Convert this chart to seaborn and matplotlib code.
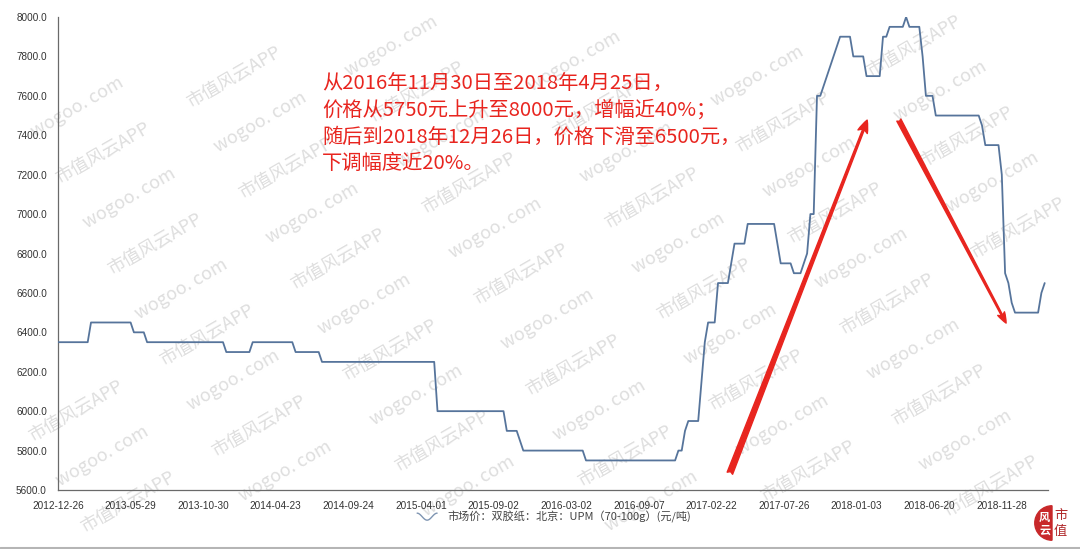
import numpy as np
import pandas as pd
import matplotlib
matplotlib.use("Agg")
import matplotlib.pyplot as plt
import seaborn as sns
from matplotlib.ticker import MultipleLocator, FixedLocator, FixedFormatter, FormatStrFormatter
from matplotlib.legend_handler import HandlerBase
from matplotlib.lines import Line2D
from matplotlib.patches import Wedge

# 双胶纸周度市场价（元/吨）：每个价位及其连续持续的周数
price_levels = [6350, 6450, 6400, 6350, 6300, 6350, 6300, 6250, 6000, 5900,
                5850, 5800, 5750, 5800, 5900, 5950, 6150, 6350, 6450, 6650,
                6750, 6850, 6950, 6850, 6750, 6700, 6750, 6800, 7000, 7600,
                7650, 7700, 7750, 7800, 7850, 7900, 7800, 7700, 7900, 7950,
                8000, 7950, 7800, 7600, 7500, 7450, 7350, 7200, 6700, 6650,
                6550, 6500, 6600, 6650]
weeks_at_level = [10, 13, 4, 24, 8, 13, 8, 35, 21, 4,
                  1, 19, 28, 2, 1, 4, 1, 1, 3, 4,
                  1, 4, 9, 1, 4, 3, 1, 1, 2, 2,
                  1, 1, 1, 1, 1, 4, 4, 5, 2, 5,
                  1, 4, 1, 3, 14, 1, 5, 1, 1, 1,
                  1, 8, 1, 1]

date_labels = ["2012-12-26", "2013-05-29", "2013-10-30", "2014-04-23",
               "2014-09-24", "2015-04-01", "2015-09-02", "2016-03-02",
               "2016-09-07", "2017-02-22", "2017-07-26", "2018-01-03",
               "2018-06-20", "2018-11-28"]
points_per_label = 22

series_name = "市场价：双胶纸：北京：UPM（70-100g）(元/吨)"
note_text = ("从2016年11月30日至2018年4月25日，\n"
             "价格从5750元上升至8000元，增幅近40%；\n"
             "随后到2018年12月26日，价格下滑至6500元，\n"
             "下调幅度近20%。")

prices = np.repeat(price_levels, weeks_at_level)
df = pd.DataFrame({"week": np.arange(len(prices)), "price": prices})

sns.set_theme(style="white")
plt.rcParams["font.family"] = ["Liberation Sans", "Noto Sans CJK SC", "DejaVu Sans"]
CJK = ["Noto Sans CJK SC", "DejaVu Sans"]

W, H = 1080, 549
fig = plt.figure(figsize=(W / 100, H / 100), dpi=100, facecolor="white")
ax = fig.add_axes([58 / W, 1 - 490 / H, (1048 - 58) / W, (490 - 17) / H])
ax.patch.set_visible(False)

line_color = "#56749b"
sns.lineplot(data=df, x="week", y="price", ax=ax, color=line_color,
             linewidth=1.3, legend=False, zorder=3)

ax.set_xlim(0, 300)
ax.set_ylim(5600, 8000)
ax.set_xlabel("")
ax.set_ylabel("")

tick_pos = np.arange(len(date_labels)) * points_per_label
ax.xaxis.set_major_locator(FixedLocator(tick_pos))
ax.xaxis.set_major_formatter(FixedFormatter(date_labels))
ax.xaxis.set_minor_locator(MultipleLocator(2))
ax.yaxis.set_major_locator(MultipleLocator(200))
ax.yaxis.set_minor_locator(MultipleLocator(40))
ax.yaxis.set_major_formatter(FormatStrFormatter("%.1f"))

axis_grey = "#6a6a6a"
for side in ("top", "right"):
    ax.spines[side].set_visible(False)
for side in ("left", "bottom"):
    ax.spines[side].set_color(axis_grey)
    ax.spines[side].set_linewidth(0.9)

ax.tick_params(axis="x", which="major", direction="out", length=4, width=0.8,
               color=axis_grey, labelsize=7.2, labelcolor="#333333", pad=4)
ax.tick_params(axis="x", which="minor", direction="out", length=2.6, width=0.7,
               color=axis_grey)
ax.tick_params(axis="y", which="major", direction="out", length=5, width=0.8,
               color=axis_grey, labelsize=7.2, labelcolor="#333333", pad=3)
ax.tick_params(axis="y", which="minor", direction="in", length=2.6, width=0.7,
               color=axis_grey)


class WaveHandler(HandlerBase):
    """Legend key drawn as a small curved stroke."""

    def create_artists(self, legend, orig_handle, xdescent, ydescent,
                       width, height, fontsize, trans):
        t = np.linspace(0, 1, 40)
        xs = -xdescent + t * width
        ys = -ydescent + height * (0.5 + 0.45 * np.cos(2 * np.pi * t))
        art = Line2D(xs, ys, color=orig_handle.get_color(), linewidth=1.0,
                     transform=trans)
        return [art]


handle = Line2D([], [], color="#7f95b2")
leg = fig.legend([handle], [series_name], handler_map={Line2D: WaveHandler()},
                 loc="center", bbox_to_anchor=(554 / W, 1 - 517 / H),
                 frameon=False, handlelength=1.8, handletextpad=0.9,
                 prop={"family": CJK, "size": 8})
for txt in leg.get_texts():
    txt.set_color("#444444")

red = "#e8251f"
fig.text(322 / W, 1 - 73 / H, note_text, ha="left", va="top", color=red,
         fontsize=14.6, family=CJK, linespacing=1.36, zorder=6)

# 上涨与回落两段趋势箭头
ax.annotate("", xy=(245.2, 7477), xytext=(203.6, 5685),
            arrowprops=dict(arrowstyle="fancy,head_length=0.75,head_width=0.6,tail_width=0.35",
                            color=red, shrinkA=0, shrinkB=0, mutation_scale=12),
            zorder=5)
ax.annotate("", xy=(287.3, 6447), xytext=(254.8, 7477),
            arrowprops=dict(arrowstyle="fancy,head_length=0.7,head_width=0.5,tail_width=0.3",
                            color=red, shrinkA=0, shrinkB=0, mutation_scale=11),
            zorder=5)

# 背景水印（只放在画布内完整可见的位置）
wm_origin = np.array([207.0, 335.0])
wm_u = np.array([131.0, -76.0])
wm_v = np.array([52.0, 91.0])
wm_color = "#dedede"
for m in range(-8, 14):
    for n in range(-8, 12):
        p = wm_origin + m * wm_u + n * wm_v
        q = p + wm_v / 2
        for pos, word in ((p, "市值风云APP"), (q, "wogoo. com")):
            if 58 < pos[0] < W - 58 and 36 < pos[1] < H - 36:
                fig.text(pos[0] / W, 1 - pos[1] / H, word, rotation=30,
                         rotation_mode="anchor", ha="center", va="center",
                         color=wm_color, fontsize=13, family=CJK,
                         fontweight="light", zorder=-5)

# 右下角标识
logo_ax = fig.add_axes([1030 / W, 1 - 545 / H, 44 / W, 44 / H])
logo_ax.set_xlim(-1.15, 1.15)
logo_ax.set_ylim(-1.15, 1.15)
logo_ax.set_aspect("equal")
logo_ax.axis("off")
logo_ax.add_patch(Wedge((0, 0), 0.9, 90, 270, color="#c8282a"))
logo_ax.text(-0.42, 0.3, "风", color="white", fontsize=8, family=CJK,
             ha="center", va="center", fontweight="bold")
logo_ax.text(-0.38, -0.4, "云", color="white", fontsize=8, family=CJK,
             ha="center", va="center", fontweight="bold")
logo_ax.text(0.45, 0.4, "市", color="#b0282a", fontsize=9.5, family=CJK,
             ha="center", va="center")
logo_ax.text(0.45, -0.45, "值", color="#b0282a", fontsize=9.5, family=CJK,
             ha="center", va="center")

fig.add_artist(Line2D([0, 1], [1.5 / H, 1.5 / H], color="#b5b5b5", linewidth=2.2))

fig.savefig("out.png", dpi=100, facecolor="white")
